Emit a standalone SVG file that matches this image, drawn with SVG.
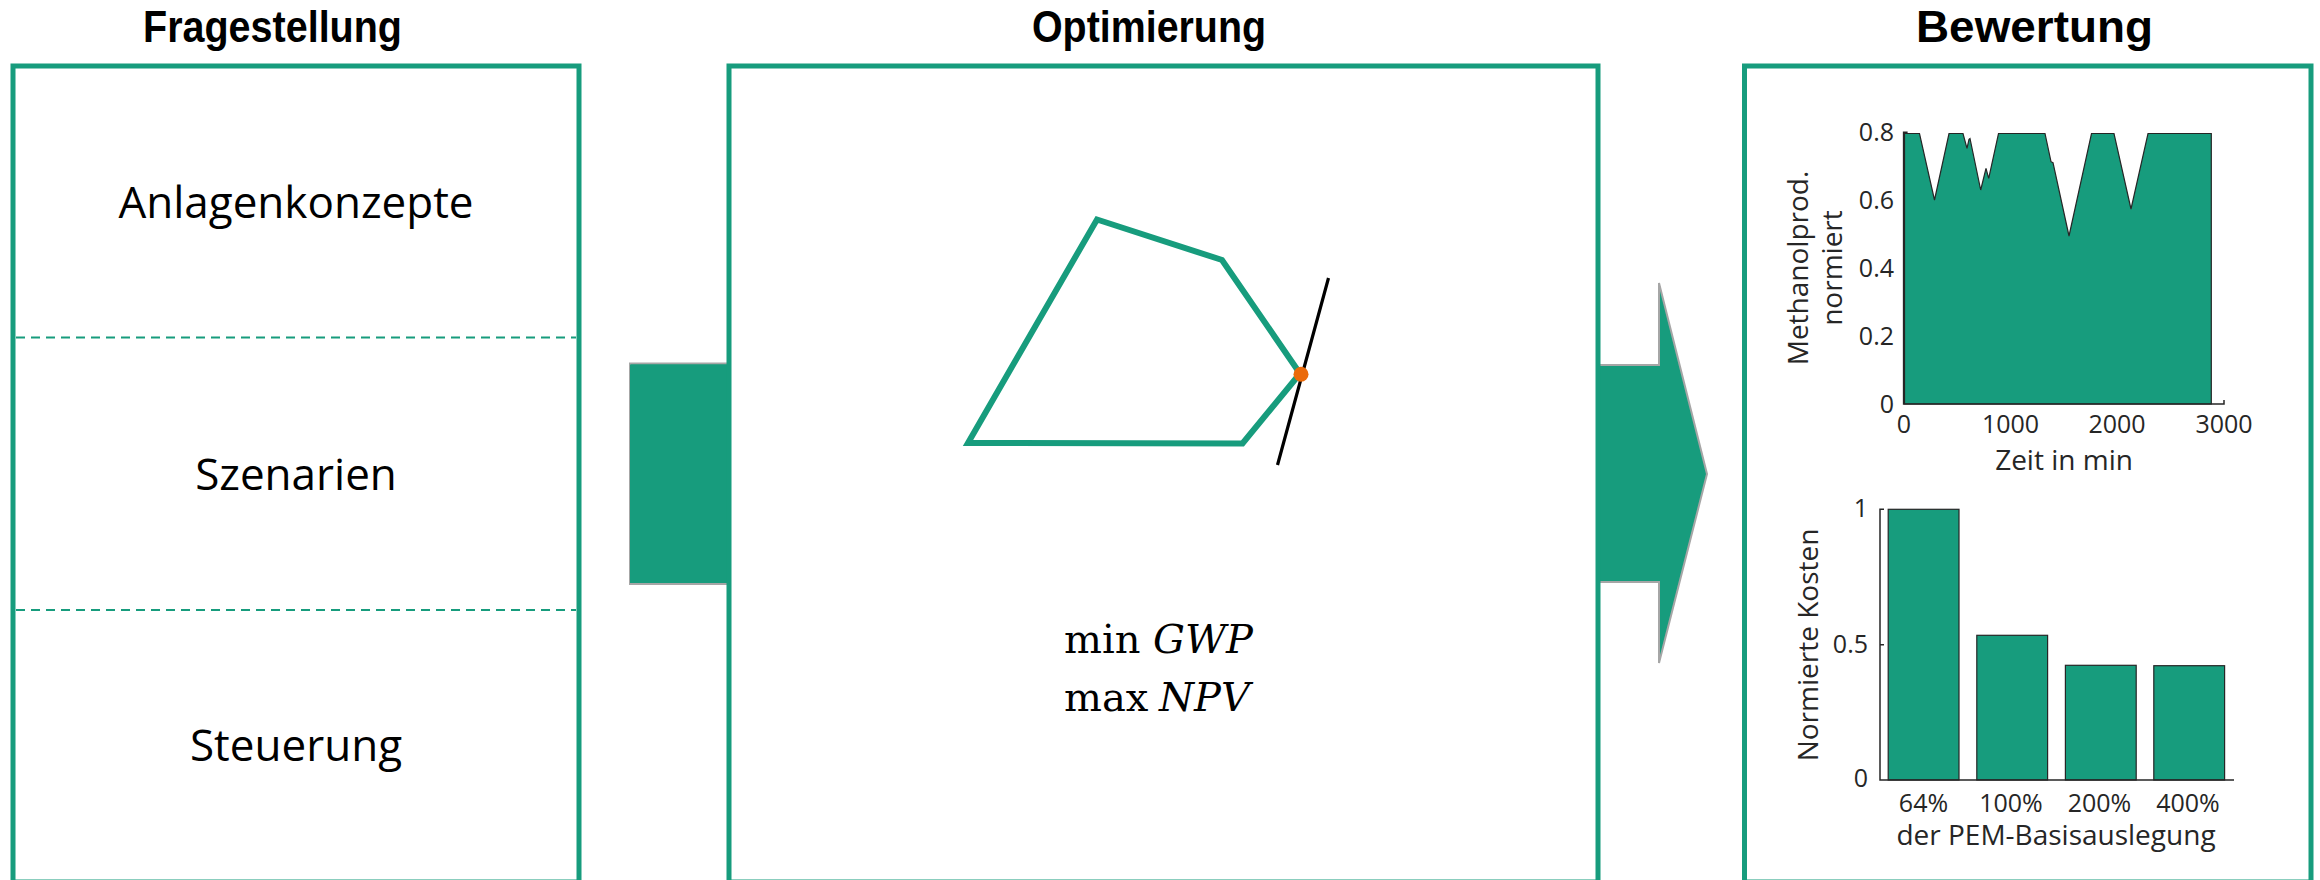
<svg xmlns="http://www.w3.org/2000/svg" width="2320" height="880" viewBox="0 0 2320 880">
<style>
.box{fill:none;stroke:#179C7D;stroke-width:5}
.dash{stroke:#179C7D;stroke-width:2;stroke-dasharray:9 6}
.title{font-family:"Liberation Sans","Open Sans",sans-serif;font-weight:bold;font-size:44px;fill:#000}
.lbl{font-family:"Open Sans","Noto Sans",sans-serif;font-size:44px;fill:#000;text-anchor:middle}
.arrow{fill:#179C7D;stroke:#A6A6A6;stroke-width:2}
.math{font-family:"DejaVu Serif",serif;font-size:40px;fill:#000}
.tick{font-family:"Open Sans","Noto Sans",sans-serif;font-size:25px;fill:#262626}
.axlbl{font-family:"Open Sans","Noto Sans",sans-serif;font-size:28px;fill:#262626;text-anchor:middle}
.axis{stroke:#262626;stroke-width:1.5;fill:none}
.area{fill:#179C7D;stroke:#262626;stroke-width:1.2}
</style>

<g id="connectors">
  <path class="arrow" d="M729,363.5 H630 V584 H729"/>
  <polygon class="arrow" points="1598,365 1659,365 1659,283 1707,474 1659,663 1659,582 1598,582"/>
  <rect x="630" y="364.5" width="99" height="218.5" fill="#179C7D"/>
  <rect x="1598" y="366" width="62" height="215" fill="#179C7D"/>
</g>

<g id="fragestellung">
  <text class="title" x="143" y="42" textLength="259" lengthAdjust="spacingAndGlyphs">Fragestellung</text>
  <rect class="box" x="13" y="66" width="566" height="816"/>
  <line class="dash" x1="16" y1="337.5" x2="576" y2="337.5"/>
  <line class="dash" x1="16" y1="610" x2="576" y2="610"/>
  <text class="lbl" x="296" y="218">Anlagenkonzepte</text>
  <text class="lbl" x="296" y="490">Szenarien</text>
  <text class="lbl" x="296" y="761">Steuerung</text>
</g>

<g id="optimierung">
  <text class="title" x="1032" y="42" textLength="234" lengthAdjust="spacingAndGlyphs">Optimierung</text>
  <rect class="box" x="729" y="66" width="869" height="816"/>
  <polygon points="968,443 1097,219.5 1222,260 1300,373.5 1242.5,443.5" fill="none" stroke="#179C7D" stroke-width="6" stroke-linejoin="miter"/>
  <line x1="1328.5" y1="278" x2="1277.5" y2="465" stroke="#000" stroke-width="3.2"/>
  <circle cx="1301" cy="374.3" r="7.5" fill="#EB6A0A"/>
  <text class="math" x="1064" y="653">min</text>
  <text class="math" x="1153" y="653" font-style="italic">GWP</text>
  <text class="math" x="1064" y="711">max</text>
  <text class="math" x="1159" y="711" font-style="italic">NPV</text>
</g>

<g id="bewertung">
  <text class="title" x="1916" y="42" textLength="237" lengthAdjust="spacingAndGlyphs">Bewertung</text>
  <rect class="box" x="1744.5" y="66" width="566.5" height="816"/>

  <g id="plot-methanol">
    <path class="area" d="M1904.5,404 L1904.5,133.5 L1919.5,133.5 L1934.5,200 L1949,133.5 L1963,133.5 L1967,148.3 L1969,139.3 L1970,138.5 L1980.7,190 L1986,168.3 L1988.7,178.3 L1998.5,133.5 L2045,133.5 L2051,161.7 L2053,162.7 L2069,236 L2091.5,133.5 L2114,133.5 L2131,209 L2148,133.5 L2211.3,133.5 L2211.3,404 Z"/>
    <path class="axis" d="M1907.6,132.3 H1903.6 V404 H2224 V400"/>
    <g class="tick" text-anchor="end">
      <text x="1894" y="141">0.8</text>
      <text x="1894" y="209">0.6</text>
      <text x="1894" y="277">0.4</text>
      <text x="1894" y="345">0.2</text>
      <text x="1894" y="413">0</text>
    </g>
    <g class="tick" text-anchor="middle">
      <text x="1904" y="433">0</text>
      <text x="2010.5" y="433">1000</text>
      <text x="2117" y="433">2000</text>
      <text x="2224" y="433">3000</text>
    </g>
    <text class="axlbl" x="2064" y="470">Zeit in min</text>
    <text class="axlbl" transform="translate(1808,268) rotate(-90)">Methanolprod.</text>
    <text class="axlbl" transform="translate(1842,268) rotate(-90)">normiert</text>
  </g>

  <g id="plot-kosten">
    <rect class="area" x="1888.2" y="509.3" width="70.8" height="270.7"/>
    <rect class="area" x="1976.8" y="635.3" width="70.8" height="144.7"/>
    <rect class="area" x="2065.4" y="665.3" width="70.8" height="114.7"/>
    <rect class="area" x="2153.8" y="665.7" width="70.8" height="114.3"/>
    <path class="axis" d="M1884,509.3 H1880 V780 H2234 M1880,644.7 H1884"/>
    <g class="tick" text-anchor="end">
      <text x="1868" y="517">1</text>
      <text x="1868" y="653">0.5</text>
      <text x="1868" y="787">0</text>
    </g>
    <g class="tick" text-anchor="middle">
      <text x="1923.5" y="812">64%</text>
      <text x="2011" y="812">100%</text>
      <text x="2099.5" y="812">200%</text>
      <text x="2188" y="812">400%</text>
    </g>
    <text class="axlbl" x="2056" y="845">der PEM-Basisauslegung</text>
    <text class="axlbl" transform="translate(1818,645) rotate(-90)">Normierte Kosten</text>
  </g>
</g>
</svg>
